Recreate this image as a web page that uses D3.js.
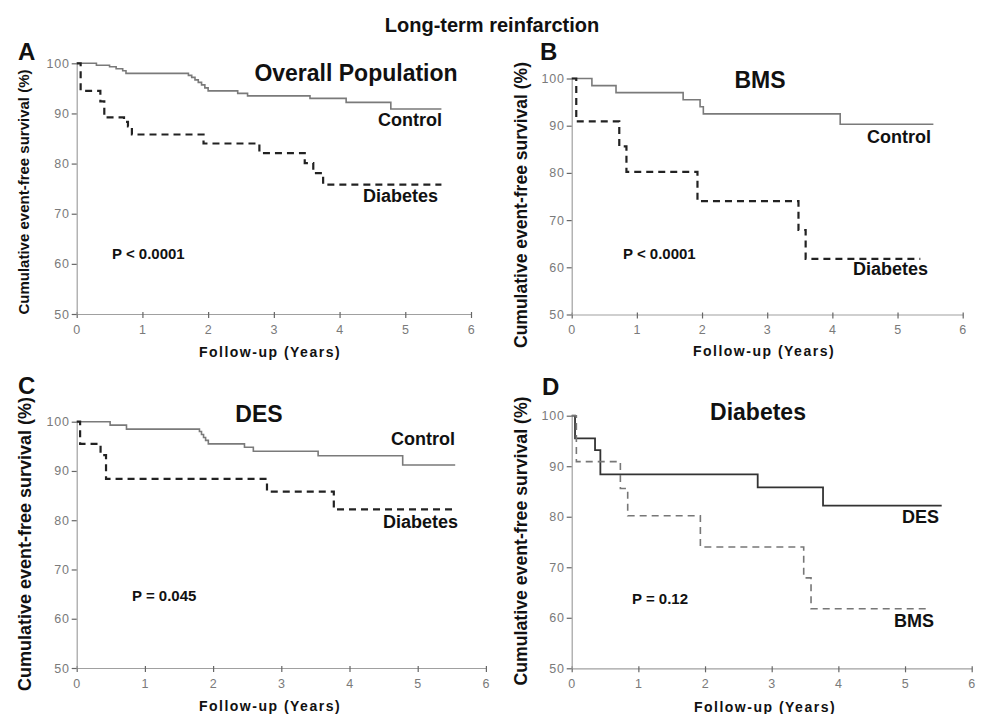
<!DOCTYPE html>
<html>
<head>
<meta charset="utf-8">
<script src="https://cdn.jsdelivr.net/npm/d3@7"></script>
<style>
  body { margin: 0; background: #fff; }
  svg { display: block; font-family: Arial, "Liberation Sans", sans-serif; }
</style>
</head>
<body>
<div id="chart"></div>
<script>
// tick labels
const yearTicks = [0, 1, 2, 3, 4, 5, 6];
const survivalTicks = [50, 60, 70, 80, 90, 100];

// Kaplan-Meier steps: [years, survival %] (value after the step)
const overallControl = [[0, 100], [0.3, 99.6], [0.5, 99.3], [0.6, 98.9], [0.7, 98.5], [0.75, 98.0],
  [1.7, 97.6], [1.75, 97.2], [1.8, 96.7], [1.85, 96.2], [1.9, 95.7], [1.95, 95.1], [2.0, 94.5],
  [2.45, 94.0], [2.6, 93.5], [3.55, 93.0], [4.1, 92.2], [4.78, 90.9], [5.55, 90.9]];
const overallDiabetes = [[0, 100], [0.06, 94.5], [0.36, 92.4], [0.42, 89.2], [0.72, 88.3], [0.78, 87.4],
  [0.84, 85.8], [1.93, 84.0], [2.78, 82.1], [3.47, 80.1], [3.6, 78.1], [3.75, 75.8], [5.55, 75.8]];

const bmsControl = [[0, 100], [0.31, 98.5], [0.68, 97.0], [1.71, 95.5], [1.97, 94.0], [2.02, 92.5],
  [4.12, 90.3], [5.55, 90.3]];
const bmsDiabetes = [[0, 100], [0.07, 90.9], [0.73, 85.6], [0.84, 80.2], [1.93, 74.0], [3.48, 67.9],
  [3.59, 61.8], [5.35, 61.8]];

const desControl = [[0, 100], [0.49, 99.3], [0.73, 98.5], [1.8, 98.0], [1.83, 97.4], [1.86, 96.8],
  [1.89, 96.2], [1.93, 95.5], [2.46, 94.8], [2.59, 94.0], [3.54, 93.1], [4.78, 91.2], [5.55, 91.2]];
const desDiabetes = [[0, 100], [0.05, 95.5], [0.35, 93.2], [0.43, 88.4], [2.79, 85.8], [3.77, 82.2],
  [5.55, 82.2]];

const panelTitles = ['Overall Population', 'BMS', 'DES', 'Diabetes'];
const panelLetters = ['A', 'B', 'C', 'D'];
const pValues = ['P < 0.0001', 'P < 0.0001', 'P = 0.045', 'P = 0.12'];

const width = 984;
const height = 714;

const svg = d3.select('#chart')
  .append('svg')
  .attr('width', width)
  .attr('height', height);

svg.append('text')
  .attr('x', 492)
  .attr('y', 25)
  .attr('dy', '0.35em')
  .attr('text-anchor', 'middle')
  .attr('font-size', 20)
  .attr('font-weight', 'bold')
  .attr('fill', '#111')
  .text('Long-term reinfarction');

// panel layout (pixels)
const panels = [
  {
    left: 76.7, right: 471, top: 63.3, bottom: 314,
    letter: [18, 52], title: [356, 73], yTitle: [24, 192, 15], xTitle: [270, 352], p: [112, 254],
    series: [
      { data: overallControl, name: 'Control', dashed: false, color: '#7a7a7a', w: 1.6, label: [378, 120] },
      { data: overallDiabetes, name: 'Diabetes', dashed: true, color: '#222', w: 2.2, label: [363, 196] }
    ]
  },
  {
    left: 571.7, right: 962.7, top: 78.5, bottom: 314.5,
    letter: [540, 52], title: [760, 80], yTitle: [521, 205, 17.5], xTitle: [764, 351], p: [623, 254],
    series: [
      { data: bmsControl, name: 'Control', dashed: false, color: '#7a7a7a', w: 1.6, label: [867, 137] },
      { data: bmsDiabetes, name: 'Diabetes', dashed: true, color: '#222', w: 2.2, label: [853, 269] }
    ]
  },
  {
    left: 76.7, right: 485.9, top: 421.7, bottom: 668,
    letter: [18, 386], title: [259, 414], yTitle: [25, 544, 18], xTitle: [270, 706], p: [132, 596],
    series: [
      { data: desControl, name: 'Control', dashed: false, color: '#7a7a7a', w: 1.6, label: [391, 439] },
      { data: desDiabetes, name: 'Diabetes', dashed: true, color: '#222', w: 2.2, label: [383, 522] }
    ]
  },
  {
    left: 571.7, right: 971.7, top: 415.7, bottom: 668.3,
    letter: [542, 387], title: [758, 412], yTitle: [521, 541, 17.7], xTitle: [765, 707], p: [632, 599],
    series: [
      { data: desDiabetes, name: 'DES', dashed: false, color: '#333', w: 1.8, label: [902, 517] },
      { data: bmsDiabetes, name: 'BMS', dashed: true, color: '#777', w: 1.6, label: [894, 621] }
    ]
  }
];

panels.forEach((p, i) => drawPanel(p, i));

function drawPanel(p, i) {
  const g = svg.append('g');

  // scales
  const x = d3.scaleLinear().domain([0, 6]).range([p.left, p.right]);
  const y = d3.scaleLinear().domain([50, 100]).range([p.bottom, p.top]);

  // axes
  const xAxis = g.append('g')
    .attr('transform', `translate(0,${p.bottom})`)
    .call(d3.axisBottom(x).tickValues(yearTicks).tickFormat(d3.format('d'))
      .tickSize(4).tickSizeOuter(0).tickPadding(7));
  const yAxis = g.append('g')
    .attr('transform', `translate(${p.left},0)`)
    .call(d3.axisLeft(y).tickValues(survivalTicks).tickFormat(d3.format('d'))
      .tickSize(5).tickSizeOuter(0).tickPadding(2));

  [xAxis, yAxis].forEach(a => {
    a.select('.domain').attr('stroke', '#a0a0a0').attr('stroke-width', 1.2);
    a.selectAll('.tick line').attr('stroke', '#666').attr('stroke-width', 1.2);
    a.selectAll('.tick text')
      .attr('fill', '#7a7a7a')
      .attr('font-size', 12.5)
      .attr('letter-spacing', '0.8px')
      .attr('font-family', 'Arial, "Liberation Sans", sans-serif');
  });
  xAxis.selectAll('.tick line').attr('y1', -2);

  // curves
  const line = d3.line()
    .x(d => x(d[0]))
    .y(d => y(d[1]))
    .curve(d3.curveStepAfter);

  p.series.forEach(s => {
    g.append('path')
      .datum(s.data)
      .attr('fill', 'none')
      .attr('stroke', s.color)
      .attr('stroke-width', s.w)
      .attr('stroke-dasharray', s.dashed ? '7,5' : null)
      .attr('d', line);

    g.append('text')
      .attr('x', s.label[0])
      .attr('y', s.label[1])
      .attr('dy', '0.35em')
      .attr('font-size', 18)
      .attr('font-weight', 'bold')
      .attr('fill', '#111')
      .text(s.name);
  });

  // panel letter
  g.append('text')
    .attr('x', p.letter[0])
    .attr('y', p.letter[1])
    .attr('dy', '0.35em')
    .attr('font-size', 24)
    .attr('font-weight', 'bold')
    .attr('fill', '#111')
    .text(panelLetters[i]);

  // panel title
  g.append('text')
    .attr('x', p.title[0])
    .attr('y', p.title[1])
    .attr('dy', '0.35em')
    .attr('text-anchor', 'middle')
    .attr('font-size', 23)
    .attr('font-weight', 'bold')
    .attr('fill', '#111')
    .text(panelTitles[i]);

  // p value
  g.append('text')
    .attr('x', p.p[0])
    .attr('y', p.p[1])
    .attr('dy', '0.35em')
    .attr('font-size', 15)
    .attr('font-weight', 'bold')
    .attr('fill', '#111')
    .text(pValues[i]);

  // axis titles
  g.append('text')
    .attr('transform', `translate(${p.yTitle[0]},${p.yTitle[1]}) rotate(-90)`)
    .attr('dy', '0.35em')
    .attr('text-anchor', 'middle')
    .attr('font-size', p.yTitle[2])
    .attr('font-weight', 'bold')
    .attr('fill', '#111')
    .text('Cumulative event-free survival (%)');

  g.append('text')
    .attr('x', p.xTitle[0])
    .attr('y', p.xTitle[1])
    .attr('dy', '0.35em')
    .attr('text-anchor', 'middle')
    .attr('font-size', 14)
    .attr('font-weight', 'bold')
    .attr('letter-spacing', '1.5px')
    .attr('fill', '#111')
    .text('Follow-up (Years)');
}
</script>
</body>
</html>
